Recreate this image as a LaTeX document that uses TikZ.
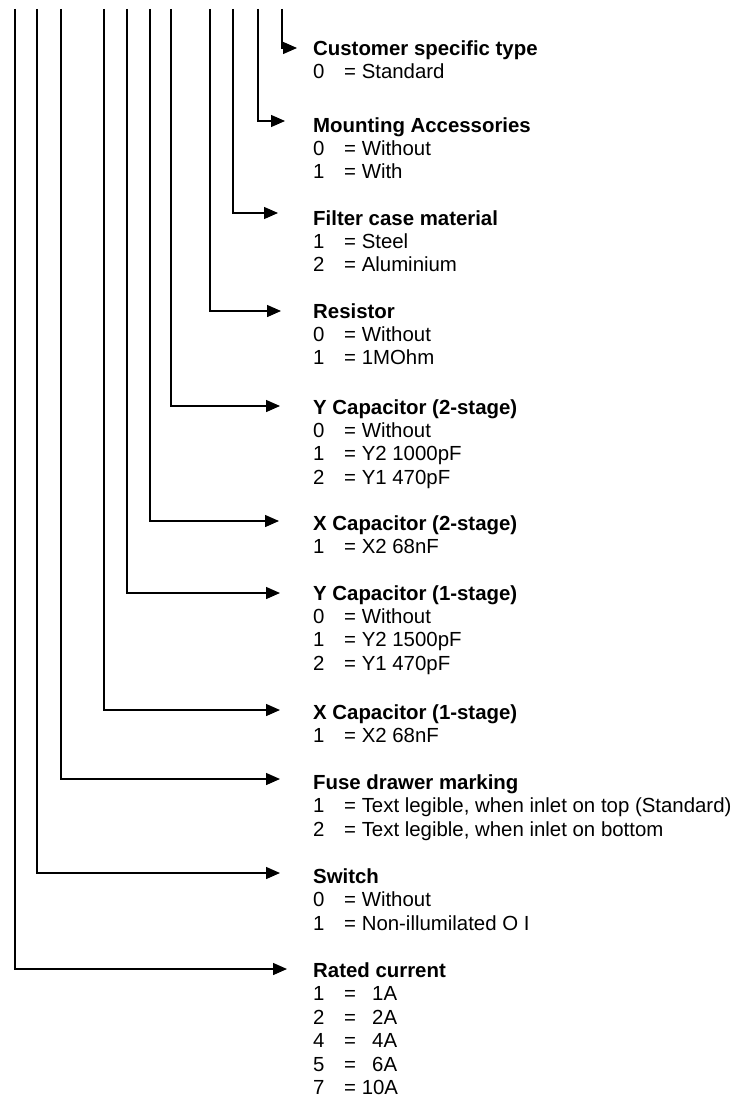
\documentclass[tikz,border=0pt]{standalone}
\usepackage{fontspec}
\setmainfont{Liberation Sans}
\usetikzlibrary{arrows.meta}
\newcommand\numcol[1]{\makebox[31pt][l]{#1}}
\newcommand\valr[1]{\makebox[41pt][r]{#1}}
\tikzset{
  conn/.style={line width=1.4pt, -{Triangle[length=14pt,width=12pt]}},
  hd/.style={anchor=base west, inner sep=0pt, font=\fontsize{20.4pt}{23pt}\selectfont\bfseries},
  it/.style={anchor=base west, inner sep=0pt, font=\fontsize{20.4pt}{23pt}\selectfont},
}
\begin{document}
\begin{tikzpicture}[x=1pt,y=-1pt]
\useasboundingbox[fill=white] (0,0) rectangle (736,1097);
% tops of the vertical lines
\coordinate (t1) at (15,9);
\coordinate (t2) at (37,9);
\coordinate (t3) at (61,9);
\coordinate (t4) at (104,9);
\coordinate (t5) at (127,9);
\coordinate (t6) at (150,9);
\coordinate (t7) at (171,9);
\coordinate (t8) at (210,9);
\coordinate (t9) at (233,9);
\coordinate (t10) at (258,9);
\coordinate (t11) at (282,9);
% arrow ends
\coordinate (e1) at (287,969);
\coordinate (e2) at (280,873);
\coordinate (e3) at (280,779);
\coordinate (e4) at (280,710);
\coordinate (e5) at (280,593);
\coordinate (e6) at (279,521);
\coordinate (e7) at (280,406);
\coordinate (e8) at (281,311);
\coordinate (e9) at (278,213);
\coordinate (e10) at (285,121);
\coordinate (e11) at (297,48);

\draw[conn] (t1) |- (e1);
\draw[conn] (t2) |- (e2);
\draw[conn] (t3) |- (e3);
\draw[conn] (t4) |- (e4);
\draw[conn] (t5) |- (e5);
\draw[conn] (t6) |- (e6);
\draw[conn] (t7) |- (e7);
\draw[conn] (t8) |- (e8);
\draw[conn] (t9) |- (e9);
\draw[conn] (t10) |- (e10);
\draw[conn] (t11) |- (e11);

% Customer specific type
\node[hd] (h11) at (313,56) {Customer specific type};
\node[it] (i11a) at (313,79) {\numcol{0}= Standard};
% Mounting
\node[hd] (h10) at (313,132) {Mounting Accessories};
\node[it] (i10a) at (313,155) {\numcol{0}= Without};
\node[it] (i10b) at (313,178) {\numcol{1}= With};
% Filter case
\node[hd] (h9) at (313,225) {Filter case material};
\node[it] (i9a) at (313,248) {\numcol{1}= Steel};
\node[it] (i9b) at (313,271) {\numcol{2}= Aluminium};
% Resistor
\node[hd] (h8) at (313,318) {Resistor};
\node[it] (i8a) at (313,341) {\numcol{0}= Without};
\node[it] (i8b) at (313,364) {\numcol{1}= 1MOhm};
% Y Capacitor 2-stage
\node[hd] (h7) at (313,414) {Y Capacitor (2-stage)};
\node[it] (i7a) at (313,437) {\numcol{0}= Without};
\node[it] (i7b) at (313,460) {\numcol{1}= Y2 1000pF};
\node[it] (i7c) at (313,484) {\numcol{2}= Y1 470pF};
% X Capacitor 2-stage
\node[hd] (h6) at (313,530) {X Capacitor (2-stage)};
\node[it] (i6a) at (313,553) {\numcol{1}= X2 68nF};
% Y Capacitor 1-stage
\node[hd] (h5) at (313,600) {Y Capacitor (1-stage)};
\node[it] (i5a) at (313,623) {\numcol{0}= Without};
\node[it] (i5b) at (313,646) {\numcol{1}= Y2 1500pF};
\node[it] (i5c) at (313,670) {\numcol{2}= Y1 470pF};
% X Capacitor 1-stage
\node[hd] (h4) at (313,719) {X Capacitor (1-stage)};
\node[it] (i4a) at (313,742) {\numcol{1}= X2 68nF};
% Fuse drawer marking
\node[hd] (h3) at (313,789) {Fuse drawer marking};
\node[it] (i3a) at (313,812) {\numcol{1}= Text legible, when inlet on top (Standard)};
\node[it] (i3b) at (313,836) {\numcol{2}= Text legible, when inlet on bottom};
% Switch
\node[hd] (h2) at (313,883) {Switch};
\node[it] (i2a) at (313,906) {\numcol{0}= Without};
\node[it] (i2b) at (313,930) {\numcol{1}= Non-illumilated O I};
% Rated current
\node[hd] (h1) at (313,977) {Rated current};
\node[it] (i1a) at (313,1000) {\numcol{1}=\valr{1A}};
\node[it] (i1b) at (313,1024) {\numcol{2}=\valr{2A}};
\node[it] (i1c) at (313,1047) {\numcol{4}=\valr{4A}};
\node[it] (i1d) at (313,1071) {\numcol{5}=\valr{6A}};
\node[it] (i1e) at (313,1094) {\numcol{7}= 10A};
\end{tikzpicture}
\end{document}
